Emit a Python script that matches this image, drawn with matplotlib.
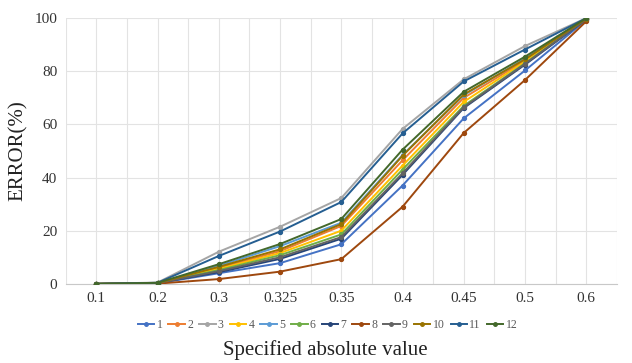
import matplotlib
matplotlib.use("Agg")
import matplotlib.pyplot as plt
import numpy as np

plt.rcParams["font.family"] = ["Liberation Serif", "DejaVu Serif"]

categories = ["0.1", "0.2", "0.3", "0.325", "0.35", "0.4", "0.45", "0.5", "0.6"]
s1 = [0, 0.2, 4.0, 7.8, 14.9, 37.0, 62.3, 80.3, 99.3]
s2 = [0, 0.3, 6.0, 12.3, 21.8, 46.5, 70.0, 84.0, 99.7]
s3 = [0, 0.5, 12.1, 21.5, 32.3, 58.3, 77.0, 89.5, 100]
s4 = [0, 0.3, 5.6, 11.6, 20.0, 44.5, 68.5, 83.6, 99.7]
s5 = [0, 0.3, 6.8, 14.2, 23.0, 48.5, 71.0, 84.8, 99.8]
s6 = [0, 0.3, 5.2, 10.8, 18.6, 43.0, 67.0, 83.0, 99.6]
s7 = [0, 0.3, 4.4, 9.4, 17.0, 41.0, 66.2, 82.5, 99.5]
s8 = [0, 0.1, 1.8, 4.6, 9.3, 29.0, 56.8, 76.7, 98.8]
s9 = [0, 0.3, 4.8, 10.0, 17.6, 41.6, 66.5, 82.8, 99.6]
s10 = [0, 0.3, 6.4, 13.0, 22.5, 48.2, 71.3, 84.5, 99.8]
s11 = [0, 0.4, 10.5, 19.7, 30.8, 56.6, 76.2, 88.2, 100]
s12 = [0, 0.4, 7.4, 15.0, 24.4, 50.5, 72.3, 85.5, 100]
series = [s1, s2, s3, s4, s5, s6, s7, s8, s9, s10, s11, s12]
names = [str(i) for i in range(1, 13)]
colors = ["#4472C4", "#ED7D31", "#A5A5A5", "#FFC000", "#5B9BD5", "#70AD47",
          "#264478", "#9E480E", "#636363", "#997300", "#255E91", "#43682B"]

fig = plt.figure(figsize=(6.32, 3.63), dpi=100)
ax = fig.add_axes([0.104, 0.218, 0.872, 0.732])
x = np.arange(len(categories))
for vals, nm, c in zip(series, names, colors):
    ax.plot(x, vals, color=c, lw=1.4, marker="o", ms=2.8, label=nm, zorder=3)

ax.set_xlim(-0.5, len(categories) - 0.5)
ax.set_ylim(0, 100)
ax.set_yticks(range(0, 101, 20))
ax.set_xticks(x)
ax.set_xticklabels(categories)
ax.set_xticks(np.arange(-0.5, len(categories), 1.0), minor=True)
ax.grid(True, which="both", color="#E3E3E3", lw=0.8, zorder=0)
ax.tick_params(which="both", length=0, labelsize=11, colors="#333333", pad=6)
for s in ["top", "right", "left"]:
    ax.spines[s].set_visible(False)
ax.spines["bottom"].set_color("#C8C8C8")
ax.set_ylabel("ERROR(%)", fontsize=15, color="#222222", labelpad=5)

leg = ax.legend(loc="center", bbox_to_anchor=(0.475, -0.155), ncol=12, frameon=False,
                fontsize=8.5, handlelength=1.4, handletextpad=0.2, columnspacing=0.5,
                markerscale=0.9, borderaxespad=0)
for t in leg.get_texts():
    t.set_color("#595959")
fig.text(0.515, 0.035, "Specified absolute value", ha="center", va="center",
         fontsize=15, color="#222222")

fig.savefig("out.png", dpi=100, facecolor="white")
